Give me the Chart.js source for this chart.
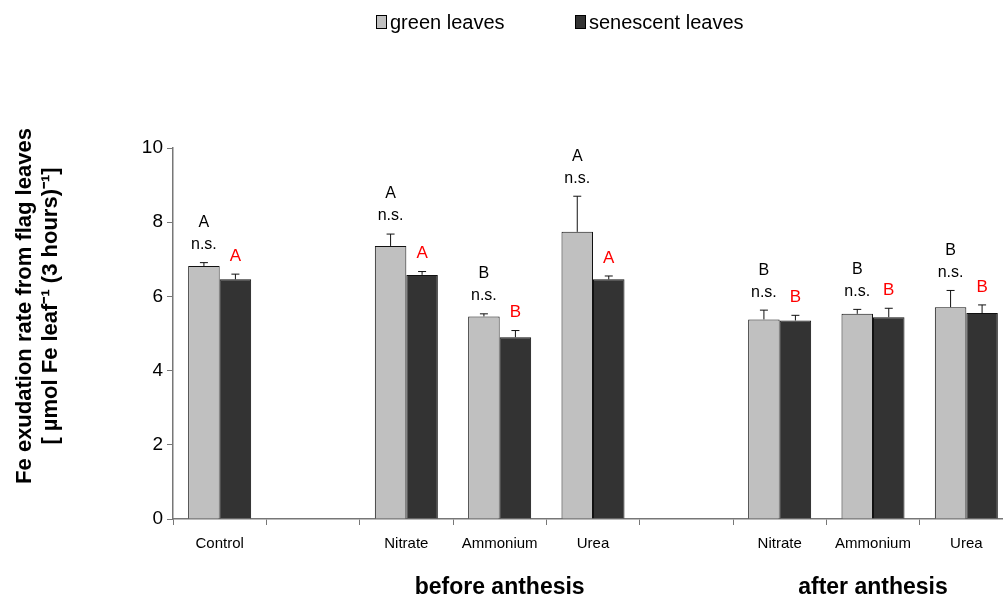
<!DOCTYPE html>
<html>
<head>
<meta charset="utf-8">
<script src="https://cdn.jsdelivr.net/npm/chart.js@4/dist/chart.umd.min.js"></script>
<style>
  html, body { margin: 0; padding: 0; background: #fff; overflow: hidden; }
  #wrap { position: absolute; left: 0; top: 0; width: 1016px; height: 598px; }
</style>
</head>
<body>
<div id="wrap"><canvas id="chart"></canvas></div>
<script>
// categories (empty slots are the gaps between groups)
const categories = ['Control', '', 'Nitrate', 'Ammonium', 'Urea', '', 'Nitrate', 'Ammonium', 'Urea'];
const groups = [
  { label: 'before anthesis', from: 2, to: 4 },
  { label: 'after anthesis', from: 6, to: 8 }
];

// means and upper error (SE)
const greenLeaves = [6.82, null, 7.36, 5.46, 7.74, null, 5.38, 5.53, 5.71];
const greenErr    = [0.09, null, 0.32, 0.07, 0.96, null, 0.25, 0.12, 0.45];
const senescentLeaves = [6.46, null, 6.58, 4.90, 6.46, null, 5.35, 5.44, 5.55];
const senescentErr    = [0.14, null, 0.09, 0.18, 0.09, null, 0.14, 0.24, 0.22];

// significance letters
const greenLetters = ['A', '', 'A', 'B', 'A', '', 'B', 'B', 'B'];
const greenNs = ['n.s.', '', 'n.s.', 'n.s.', 'n.s.', '', 'n.s.', 'n.s.', 'n.s.'];
const senescentLetters = ['A', '', 'A', 'B', 'A', '', 'B', 'B', 'B'];

const yTicks = [0, 2, 4, 6, 8, 10];
const yTitle = ['Fe exudation rate from flag leaves', '[ µmol Fe leaf\u207B\u00B9 (3 hours)\u207B\u00B9]'];

const FONT = '"Liberation Sans", Arial, sans-serif';
const errors = [greenErr, senescentErr];

// error bars + letters + group labels + legend + y title
const extras = {
  id: 'extras',
  afterDatasetsDraw(chart) {
    const ctx = chart.ctx;
    const y = chart.scales.y;
    ctx.save();
    chart.data.datasets.forEach((ds, di) => {
      const meta = chart.getDatasetMeta(di);
      meta.data.forEach((bar, i) => {
        const v = ds.data[i];
        if (v == null) return;
        const top = y.getPixelForValue(v + errors[di][i]);
        ctx.strokeStyle = '#111';
        ctx.lineWidth = 1;
        ctx.beginPath();
        ctx.moveTo(bar.x, bar.y);
        ctx.lineTo(bar.x, top);
        ctx.moveTo(bar.x - 4, top);
        ctx.lineTo(bar.x + 4, top);
        ctx.stroke();

        ctx.textAlign = 'center';
        ctx.textBaseline = 'middle';
        if (di === 0) {
          ctx.fillStyle = '#000';
          ctx.font = '16px ' + FONT;
          ctx.fillText(greenNs[i], bar.x, top - 18);
          ctx.fillText(greenLetters[i], bar.x, top - 40);
        } else {
          ctx.fillStyle = '#ff0000';
          ctx.font = '17px ' + FONT;
          ctx.fillText(senescentLetters[i], bar.x, top - 18);
        }
      });
    });
    ctx.restore();
  },
  afterDraw(chart) {
    const ctx = chart.ctx;
    const x = chart.scales.x;
    ctx.save();
    ctx.fillStyle = '#000';
    ctx.font = 'bold 23px ' + FONT;
    ctx.textAlign = 'center';
    ctx.textBaseline = 'middle';
    groups.forEach(g => {
      const cx = (x.getPixelForValue(g.from) + x.getPixelForValue(g.to)) / 2;
      ctx.fillText(g.label, cx, 588);
    });

    // y axis title
    ctx.save();
    ctx.translate(25, 306);
    ctx.rotate(-Math.PI / 2);
    ctx.font = 'bold 22px ' + FONT;
    yTitle.forEach((line, i) => ctx.fillText(line, 0, i * 26));
    ctx.restore();

    // legend
    const legendX = [376, 575];
    ctx.font = '20px ' + FONT;
    ctx.textAlign = 'left';
    chart.data.datasets.forEach((ds, i) => {
      ctx.fillStyle = ds.backgroundColor;
      ctx.fillRect(legendX[i] + 0.5, 15.5, 10, 13);
      ctx.strokeStyle = '#000';
      ctx.lineWidth = 1;
      ctx.strokeRect(legendX[i] + 0.5, 15.5, 10, 13);
      ctx.fillStyle = '#000';
      ctx.fillText(ds.label, legendX[i] + 14, 23);
    });
    ctx.restore();
  }
};

new Chart(document.getElementById('chart'), {
  type: 'bar',
  data: {
    labels: categories,
    datasets: [
      {
        label: 'green leaves',
        data: greenLeaves,
        backgroundColor: '#c0c0c0',
        borderColor: '#111',
        borderWidth: 1
      },
      {
        label: 'senescent leaves',
        data: senescentLeaves,
        backgroundColor: '#333333',
        borderColor: '#111',
        borderWidth: 1
      }
    ]
  },
  options: {
    responsive: true,
    maintainAspectRatio: false,
    animation: false,
    datasets: {
      bar: { categoryPercentage: 0.675, barPercentage: 1.0, grouped: true }
    },
    layout: { padding: { top: 148, right: 3, left: 0, bottom: 0 } },
    plugins: {
      legend: { display: false },
      tooltip: { enabled: false }
    },
    scales: {
      x: {
        grid: {
          display: true,
          offset: true,
          drawOnChartArea: false,
          tickLength: 6,
          tickColor: '#777',
          lineWidth: 1
        },
        border: { color: '#777', width: 1.5 },
        ticks: {
          color: '#000',
          font: { family: FONT, size: 15 },
          padding: 10,
          maxRotation: 0,
          autoSkip: false
        },
        afterFit(scale) { scale.height = 79; }
      },
      y: {
        min: 0,
        max: 10,
        afterBuildTicks(scale) { scale.ticks = yTicks.map(v => ({ value: v })); },
        grid: {
          drawOnChartArea: false,
          tickLength: 6,
          tickColor: '#777'
        },
        border: { color: '#777', width: 1.5 },
        ticks: {
          color: '#000',
          font: { family: FONT, size: 19 },
          padding: 4
        },
        afterFit(scale) { scale.width = 173; }
      }
    }
  },
  plugins: [extras]
});
</script>
</body>
</html>
